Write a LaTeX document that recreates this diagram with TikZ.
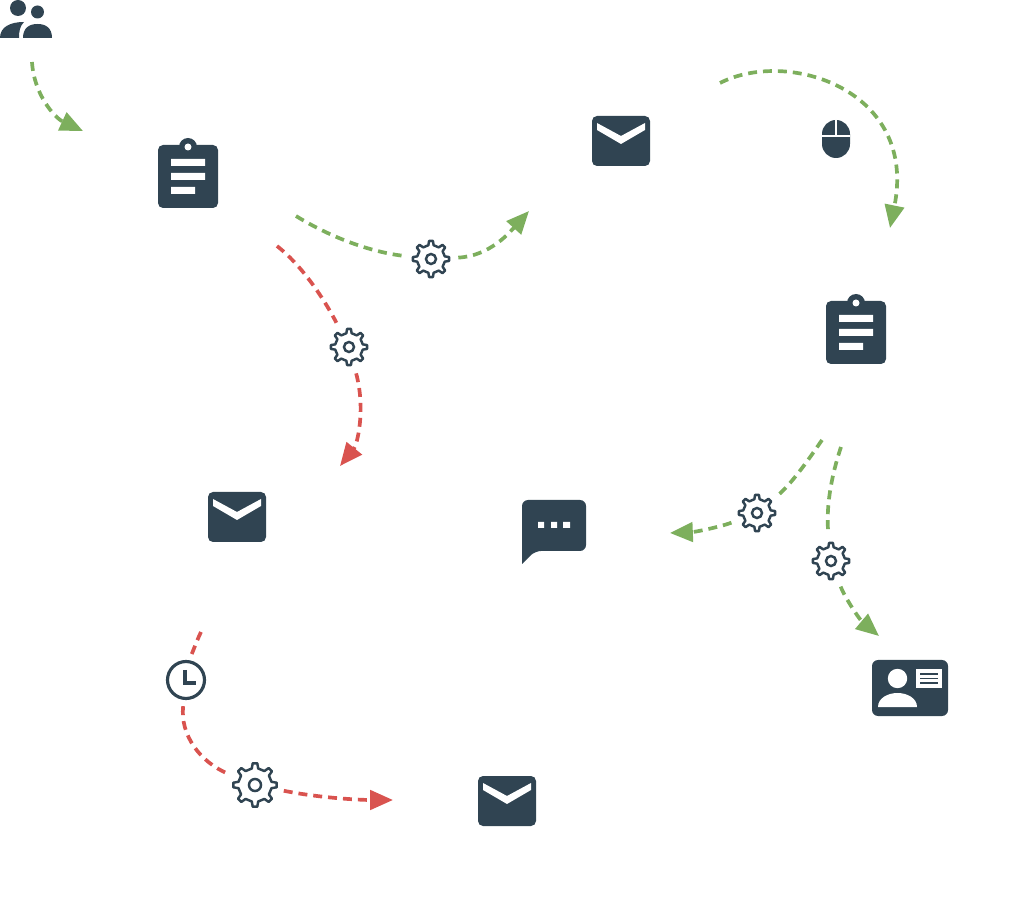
\documentclass[tikz,border=0pt]{standalone}
\usepackage{tikz}
\usetikzlibrary{arrows.meta}
\definecolor{IconSlate}{HTML}{304452}
\definecolor{FlowGreen}{HTML}{7DAF5D}
\definecolor{FlowRed}{HTML}{D9534F}

\begin{document}
\begin{tikzpicture}[x=.02cm,y=-.02cm,
    spot/.style={circle,inner sep=0pt,minimum size=1.08cm},
    flow/.style={line width=2.1pt,dash pattern=on 5.1pt off 3.4pt},
    flowend/.style={flow,-{Triangle[length=13pt,width=11pt]}},
    good/.style={FlowGreen},
    bad/.style={FlowRed},
    bar/.style={fill=white},
    pics/gearicon/.style={code={
      \draw[IconSlate,line width=1.4pt,line join=round,fill=white] (-11:14)
        \foreach \a in {0,45,...,315} {-- (\a-11:14) -- (\a-6:18.2) -- (\a+6:18.2) -- (\a+11:14)} -- cycle;
      \draw[IconSlate,line width=1.4pt] (0,0) circle[radius=5];}},
    pics/usersicon/.style={code={
      \fill[IconSlate] (-8,-11) circle[radius=8] (11.5,-7) circle[radius=6.5];
      \fill[IconSlate] (-26,19) .. controls (-26,8) and (-16,3) .. (-2,3)
        .. controls (-6,7) and (-7,12) .. (-7,19) -- cycle;
      \fill[IconSlate] (-3,19) .. controls (-3,9) and (3,5) .. (11.5,5)
        .. controls (20,5) and (26,9) .. (26,19) -- cycle;}},
    pics/clipicon/.style={code={
      \fill[IconSlate,rounded corners=1mm] (-30,-31.5) rectangle (30,31.5);
      \fill[IconSlate] (0,-29.5) circle[radius=9];
      \fill[white] (0,-29.5) circle[radius=3.5];
      \fill[bar] (-17,-17.5) rectangle (17,-10.5) (-17,-3.5) rectangle (17,3.5) (-17,10.5) rectangle (7,17.5);}},
    pics/mailicon/.style={code={
      \fill[IconSlate,rounded corners=1mm] (-29,-25) rectangle (29,25);
      \fill[bar] (-24,-18) -- (0,-5) -- (24,-18) -- (24,-11) -- (0,3) -- (-24,-11) -- cycle;}},
    pics/mouseicon/.style={code={
      \fill[IconSlate,rounded corners=.28cm] (-14,-19) rectangle (14,19);
      \draw[white,line width=1.1pt] (-14,-3) -- (14,-3) (0,-19) -- (0,-3);}},
    pics/chaticon/.style={code={
      \fill[IconSlate] (-32,32) [rounded corners=1.2mm] -- (-32,-32) -- (32,-32) -- (32,19) -- (-19,19) [sharp corners] -- cycle;
      \fill[bar] (-16,-10) rectangle (-10,-4) (-3,-10) rectangle (3,-4) (9,-10) rectangle (16,-4);}},
    pics/cardicon/.style={code={
      \fill[IconSlate,rounded corners=1.2mm] (-38,-28) rectangle (38,28);
      \fill[white] (-12.5,-9.5) circle[radius=9.7];
      \fill[white] (-32,19) .. controls (-32,10) and (-22,5) .. (-12.5,5) .. controls (-3,5) and (7,10) .. (7,19) -- cycle;
      \fill[white] (6,-19) rectangle (32,0);
      \draw[IconSlate,line width=.9pt] (10,-14) -- (28,-14) (10,-9.5) -- (28,-9.5) (10,-5) -- (28,-5);}},
    pics/clockicon/.style={code={
      \draw[IconSlate,line width=1.8pt] (0,0) circle[radius=18.5];
      \draw[IconSlate,line width=2pt] (-1,-10) -- (-1,3) -- (9.5,3);}}]
    \useasboundingbox (0,0) rectangle (1019,912);
    % icons
    \node[spot] (users) at (26,19) {};
    \pic at (users) {usersicon};
    \node[spot] (clipA) at (188,176.5) {};
    \pic at (clipA) {clipicon};
    \node[spot] (clipB) at (856,332.5) {};
    \pic at (clipB) {clipicon};
    \node[spot] (mailA) at (621,141) {};
    \pic at (mailA) {mailicon};
    \node[spot] (mailB) at (237,517) {};
    \pic at (mailB) {mailicon};
    \node[spot] (mailC) at (507,801) {};
    \pic at (mailC) {mailicon};
    \node[spot] (mouse) at (836,139) {};
    \pic at (mouse) {mouseicon};
    \node[spot] (chat) at (554,532) {};
    \pic at (chat) {chaticon};
    \node[spot] (card) at (910,688) {};
    \pic at (card) {cardicon};
    \node[spot,minimum size=1.04cm] (clock) at (186,680) {};
    \pic at (clock) {clockicon};
    % gears on the flows
    \node[spot] (gearA) at (431,259) {};
    \pic at (gearA) {gearicon};
    \node[spot] (gearB) at (349,347) {};
    \pic at (gearB) {gearicon};
    \node[spot] (gearC) at (757,513) {};
    \pic at (gearC) {gearicon};
    \node[spot] (gearD) at (831,561) {};
    \pic at (gearD) {gearicon};
    \node[spot,minimum size=1.16cm] (gearE) at (255,785) {};
    \pic[scale=1.2] at (gearE) {gearicon};
    % free ends
    \coordinate (startA) at (32,62);
    \coordinate (endA) at (83,131);
    \coordinate (startB) at (296,216);
    \coordinate (endB) at (529,211);
    \coordinate (startC) at (277,246);
    \coordinate (endC) at (340,466);
    \coordinate (startD) at (720,83);
    \coordinate (endD) at (890,228);
    \coordinate (startE) at (822,440);
    \coordinate (endE) at (670,533);
    \coordinate (startF) at (841,447);
    \coordinate (endF) at (879,636);
    \coordinate (startG) at (201,632);
    \coordinate (endG) at (393,800);
    % flows
    \draw[flowend,good] (startA) .. controls (34,95) and (55,118) .. (endA);
    \draw[flow,good] (startB) .. controls (330,237) and (370,252) .. (gearA);
    \draw[flowend,good] (gearA) .. controls (490,256) and (510,232) .. (endB);
    \draw[flow,bad] (startC) .. controls (300,264) and (322,295) .. (gearB);
    \draw[flowend,bad] (gearB) .. controls (366,410) and (357,445) .. (endC);
    \draw[flowend,good] (startD) .. controls (788,48) and (918,90) .. (endD);
    \draw[flow,good] (startE) .. controls (805,465) and (790,485) .. (gearC);
    \draw[flowend,good] (gearC) .. controls (720,527) and (695,532) .. (endE);
    \draw[flow,good] (startF) .. controls (830,480) and (826,510) .. (gearD);
    \draw[flowend,good] (gearD) .. controls (845,598) and (860,620) .. (endF);
    \draw[flow,bad] (startG) .. controls (196,642) and (190,660) .. (clock);
    \draw[flow,bad] (clock) .. controls (180,735) and (200,762) .. (gearE);
    \draw[flowend,bad] (gearE) .. controls (320,798) and (360,800) .. (endG);
\end{tikzpicture}
\end{document}
